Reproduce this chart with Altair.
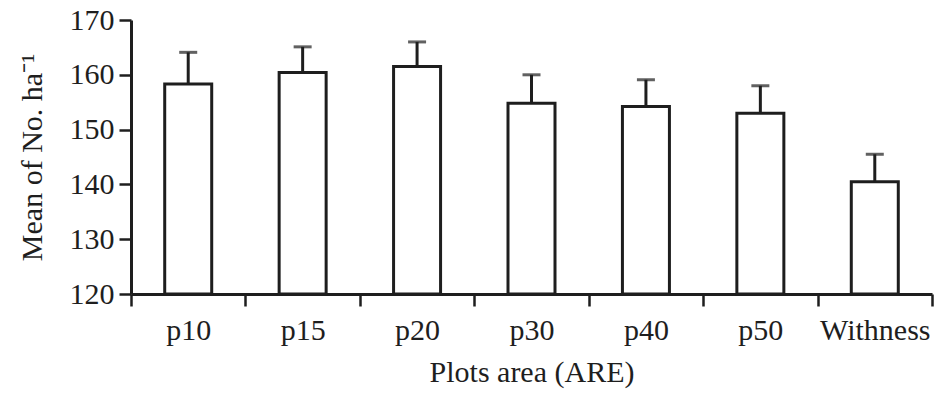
import altair as alt
import pandas as pd

categories = ["p10", "p15", "p20", "p30", "p40", "p50", "Withness"]
means = [158.3, 160.4, 161.5, 154.8, 154.2, 153.0, 140.5]
upper = [164.1, 165.1, 166.0, 160.0, 159.1, 158.0, 145.5]

df = pd.DataFrame({"cat": categories, "mean": means, "upper": upper})

FONT = "Liberation Serif"
INK = "#1e1e1e"

x_enc = alt.X(
    "cat:N",
    sort=categories,
    scale=alt.Scale(paddingInner=0, paddingOuter=0),
    axis=alt.Axis(
        title="Plots area (ARE)",
        labelAngle=0,
        tickBand="extent",
        tickSize=12,
        tickWidth=2.5,
        tickColor=INK,
        domainColor=INK,
        domainWidth=3,
        labelFont=FONT,
        labelFontSize=30,
        labelColor=INK,
        labelPadding=9,
        titleFont=FONT,
        titleFontSize=30,
        titleFontWeight="normal",
        titleColor=INK,
        titlePadding=12,
        grid=False,
    ),
)

y_scale = alt.Scale(domain=[120, 170], zero=False, nice=False)
y_axis = alt.Axis(
    title="Mean of No. ha⁻¹",
    values=[120, 130, 140, 150, 160, 170],
    tickSize=12,
    tickWidth=2.5,
    tickColor=INK,
    domainColor=INK,
    domainWidth=3,
    labelFont=FONT,
    labelFontSize=30,
    labelColor=INK,
    labelPadding=5,
    titleFont=FONT,
    titleFontSize=30,
    titleFontWeight="normal",
    titleColor=INK,
    titlePadding=22,
    grid=False,
)

base = alt.Chart(df)

bars = base.mark_bar(size=47, fill="white", stroke=INK, strokeWidth=3).encode(
    x=x_enc,
    y=alt.Y("mean:Q", scale=y_scale, axis=y_axis),
    y2=alt.datum(120),
)

err = base.mark_rule(color=INK, strokeWidth=3).encode(
    x=alt.X("cat:N", sort=categories),
    y=alt.Y("mean:Q"),
    y2="upper:Q",
)

caps = base.mark_tick(color=INK, size=18, thickness=3, orient="horizontal").encode(
    x=alt.X("cat:N", sort=categories),
    y=alt.Y("upper:Q"),
)

chart = (
    alt.layer(bars, err, caps)
    .properties(
        width=801,
        height=274,
        autosize=alt.AutoSizeParams(type="none"),
        padding={"left": 131, "top": 20, "right": 3, "bottom": 99},
        background="white",
    )
    .configure_view(stroke=None)
)

chart.save("out.html", embed_options={"renderer": "svg", "actions": False})
